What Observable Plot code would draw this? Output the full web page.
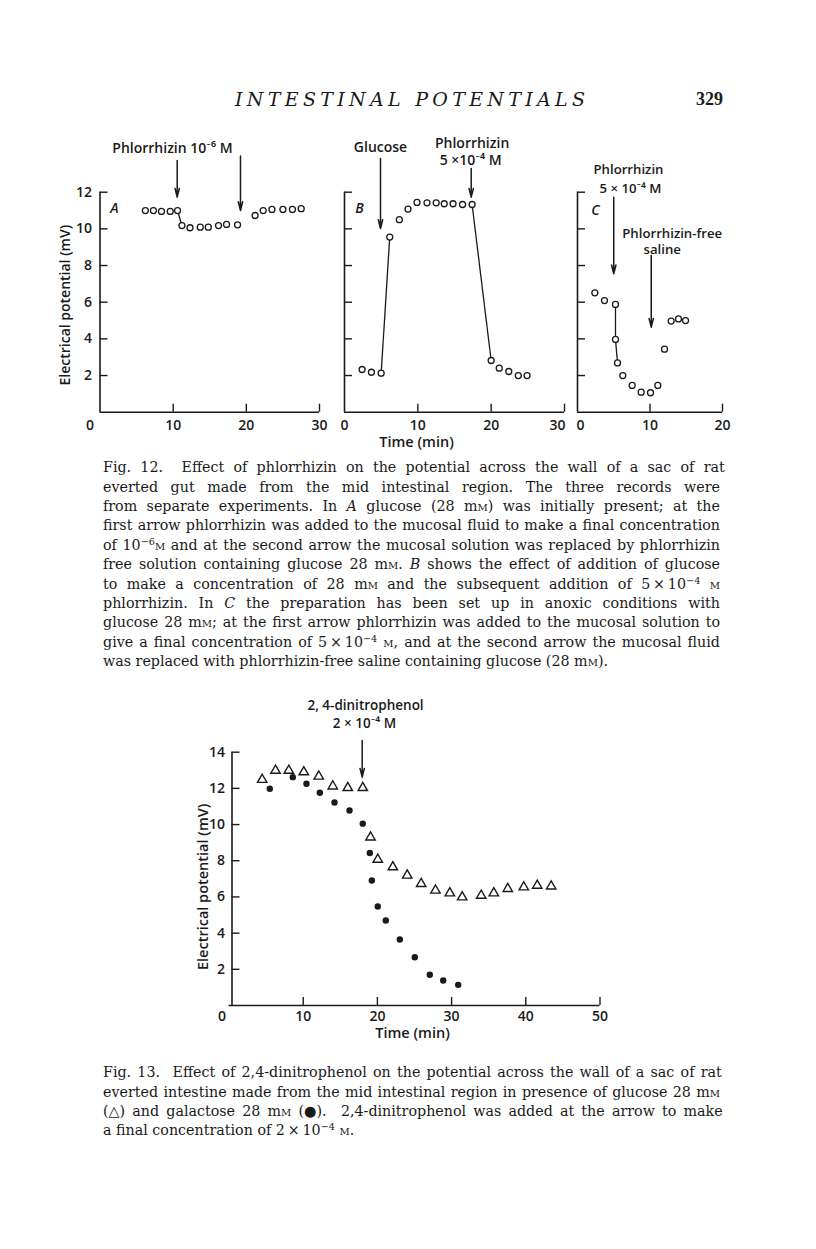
<!DOCTYPE html>
<html><head><meta charset="utf-8">
<script src="https://cdn.jsdelivr.net/npm/d3@7"></script>
<script src="https://cdn.jsdelivr.net/npm/@observablehq/plot@0.6"></script>
<style>
body{margin:0;background:#fff;}
#page{position:relative;width:816px;height:1249px;overflow:hidden;background:#fff;color:#1a1a1a;}
.hdr{position:absolute;white-space:nowrap;line-height:1;}
.cap{position:absolute;left:103px;width:617px;font-family:"DejaVu Serif",serif;color:#1a1a1a;}
.cap div{height:19.4px;line-height:19.4px;white-space:nowrap;}
.cap span.ln{display:inline-block;}
.sc{font-variant:small-caps;}
sup{font-size:0.68em;line-height:0;vertical-align:0.5em;}
</style></head>
<body><div id="page"></div>
<script>
// ---------------- DATA ----------------
// Fig. 12 A: phlorrhizin 10^-6 M
const tA = [6.2, 7.3, 8.4, 9.6, 10.6, 11.2, 12.3, 13.7, 14.8, 16.2, 17.3, 18.8, 21.2, 22.3, 23.5, 25.0, 26.3, 27.5];
const vA = [11.0, 11.0, 10.95, 10.95, 11.0, 10.18, 10.06, 10.09, 10.09, 10.18, 10.24, 10.22, 10.73, 11.0, 11.06, 11.06, 11.06, 11.1];
const linksA = [[4, 5]];
// Fig. 12 B: glucose then phlorrhizin 5x10^-4 M
const tB = [2.4, 3.67, 5.0, 6.17, 7.48, 8.66, 9.89, 11.25, 12.5, 13.6, 14.8, 16.1, 17.4, 20.0, 21.1, 22.4, 23.7, 24.9];
const vB = [2.33, 2.18, 2.13, 9.55, 10.5, 11.08, 11.44, 11.42, 11.42, 11.37, 11.37, 11.33, 11.33, 2.82, 2.4, 2.22, 2.0, 2.0];
const linksB = [[2, 3], [12, 13]];
// Fig. 12 C: anoxic
const tC = [2.39, 3.72, 5.24, 5.24, 5.52, 6.25, 7.54, 8.78, 10.07, 11.08, 12.0, 12.92, 13.93, 14.9];
const vC = [6.51, 6.09, 5.88, 3.97, 2.69, 2.0, 1.46, 1.09, 1.06, 1.46, 3.44, 4.97, 5.09, 5.0];
const linksC = [[2, 3], [3, 4]];

const arrowsA = [{t: 10.55, from: 13.73, to: 11.73}, {t: 19.2, from: 13.97, to: 11.0}];
const notesA = [{t: 9.9, v: 14.39, text: "Phlorrhizin 10\u207B\u2076 M"}];
const letterA = [{t: 1.98, v: 11.11, text: "A"}];
const arrowsB = [{t: 4.91, from: 13.84, to: 10.02}, {t: 17.28, from: 13.29, to: 11.73}];
const notesB = [{t: 4.91, v: 14.44, text: "Glucose"}, {t: 17.4, v: 14.66, text: "Phlorrhizin"}, {t: 17.2, v: 13.73, text: "5 \u00D710\u207B\u2074 M"}];
const letterB = [{t: 2.05, v: 11.11, text: "B"}];
const arrowsC = [{t: 5.0, from: 11.73, to: 7.55}, {t: 10.17, from: 8.55, to: 4.64}];
const notesC = [{t: 7.03, v: 13.24, text: "Phlorrhizin"}, {t: 7.3, v: 12.2, text: "5 \u00D7 10\u207B\u2074 M"}, {t: 13.06, v: 9.76, text: "Phlorrhizin-free"}, {t: 11.68, v: 8.86, text: "saline"}];
const letterC = [{t: 2.48, v: 11.0, text: "C"}];

const yTicks12 = [2, 4, 6, 8, 10, 12];
const xTicksAB = [10, 20, 30];
const xLabelsAB = [0, 10, 20, 30];
const xTicksC = [10, 20];
const xLabelsC = [0, 10, 20];

// Fig. 13: glucose (triangles) and galactose (dots), DNP at arrow
const tGlu = [4.47, 6.27, 8.06, 10.08, 12.10, 13.99, 16.01, 18.03, 19.07, 20.05, 22.08, 24.02, 25.90, 27.83, 29.76, 31.43, 33.99, 35.69, 37.57, 39.73, 41.54, 43.42];
const vGlu = [12.48, 12.99, 12.99, 12.90, 12.66, 12.12, 12.03, 12.03, 9.30, 8.07, 7.65, 7.19, 6.73, 6.36, 6.21, 5.99, 6.08, 6.21, 6.45, 6.54, 6.63, 6.59];
const tGal = [5.50, 8.60, 10.44, 12.24, 14.22, 16.24, 18.03, 18.98, 19.25, 20.05, 21.13, 23.02, 25.04, 27.06, 28.87, 30.89];
const vGal = [11.98, 12.62, 12.26, 11.76, 11.22, 10.78, 10.05, 8.43, 6.91, 5.47, 4.70, 3.65, 2.67, 1.70, 1.38, 1.14];
const arrows13 = [{t: 17.95, from: 14.65, to: 12.62}];
const notes13 = [{t: 18.4, v: 16.55, text: "2, 4-dinitrophenol"}, {t: 18.26, v: 15.58, text: "2 \u00D7 10\u207B\u2074 M"}];
const yTicks13 = [2, 4, 6, 8, 10, 12, 14];
const xTicks13 = [10, 20, 30, 40, 50];
const xLabels13 = [0, 10, 20, 30, 40, 50];

const yTitle = "Electrical potential (mV)";
const xTitle = "Time (min)";

// ---------------- TEXT ----------------
const mM = 'm<span class="sc">m</span>';
const M = '<span class="sc">m</span>';
const cap12 = [
  "Fig. 12.&nbsp; Effect of phlorrhizin on the potential across the wall of a sac of rat",
  "everted gut made from the mid intestinal region. The three records were",
  `from separate experiments. In <i>A</i> glucose (28 ${mM}) was initially present; at the`,
  "first arrow phlorrhizin was added to the mucosal fluid to make a final concentration",
  `of 10<sup>\u22126</sup>${M} and at the second arrow the mucosal solution was replaced by phlorrhizin`,
  `free solution containing glucose 28 ${mM}. <i>B</i> shows the effect of addition of glucose`,
  `to make a concentration of 28 ${mM} and the subsequent addition of 5\u2009\u00D7\u200910<sup>\u22124</sup> ${M}`,
  "phlorrhizin. In <i>C</i> the preparation has been set up in anoxic conditions with",
  `glucose 28 ${mM}; at the first arrow phlorrhizin was added to the mucosal solution to`,
  `give a final concentration of 5\u2009\u00D7\u200910<sup>\u22124</sup> ${M}, and at the second arrow the mucosal fluid`,
  `was replaced with phlorrhizin-free saline containing glucose (28 ${mM}).`
];
const cap13 = [
  "Fig. 13.&nbsp; Effect of 2,4-dinitrophenol on the potential across the wall of a sac of rat",
  `everted intestine made from the mid intestinal region in presence of glucose 28 ${mM}`,
  `(\u25B3) and galactose 28 ${mM} (\u25CF).&nbsp; 2,4-dinitrophenol was added at the arrow to make`,
  `a final concentration of 2\u2009\u00D7\u200910<sup>\u22124</sup> ${M}.`
];

// ---------------- LAYOUT ----------------
const page = document.getElementById("page");
const INK = "#1a1a1a";
const SANS = "'Open Sans', Lato, sans-serif";

function header(text, left, top, size, family, style, weight, target) {
  const el = document.createElement("div");
  el.className = "hdr";
  el.style.cssText = `left:${left}px;top:${top}px;font-size:${size}px;font-family:${family};font-style:${style};font-weight:${weight};`;
  el.textContent = text;
  page.appendChild(el);
  if (target) {
    const w = el.getBoundingClientRect().width;
    el.style.letterSpacing = ((target - w) / (text.length - 1)) + "px";
  }
}
header("INTESTINAL POTENTIALS", 235, 90, 19, "'DejaVu Serif', serif", "italic", "normal", 350);
header("329", 696, 90, 18, "'Liberation Serif', serif", "normal", "bold", 0);

// caption: every line but the last is justified to the column width
function caption(lines, top) {
  const box = document.createElement("div");
  box.className = "cap";
  box.style.top = top + "px";
  box.style.fontSize = "13px";
  page.appendChild(box);
  const spans = lines.map(html => {
    const row = document.createElement("div");
    const sp = document.createElement("span");
    sp.className = "ln";
    sp.innerHTML = html;
    row.appendChild(sp);
    box.appendChild(row);
    return sp;
  });
  return {box, spans};
}
const caps = [caption(cap12, 458.3), caption(cap13, 1063.3)];
let maxW = 0;
caps.forEach(c => c.spans.forEach((sp, i) => { if (i < c.spans.length - 1) maxW = Math.max(maxW, sp.getBoundingClientRect().width); }));
const capSize = 13 * 608 / maxW;
caps.forEach(c => {
  c.box.style.fontSize = capSize + "px";
  c.spans.forEach((sp, i) => {
    if (i === c.spans.length - 1) return;
    const w = sp.getBoundingClientRect().width;
    const n = (sp.textContent.match(/ /g) || []).length;
    if (n > 0) sp.style.wordSpacing = ((617 - w) / n) + "px";
  });
});

function makePanel(cfg) {
  const {left, top, width, height, mL, mR, mT, mB, xDomain, yDomain, xTicks, xLabels, xShift = {},
         yTicks, yLabels = [], yDx = 0, labelDx = -8, labelDy = 13.5, extra = []} = cfg;
  const pw = width - mL - mR, ph = height - mT - mB;
  const marks = [
    Plot.ruleY([yDomain[0]], {stroke: INK, strokeWidth: 1.6}),
    Plot.ruleX([xDomain[0]], {stroke: INK, strokeWidth: 1.6, dx: yDx}),
    Plot.tickY(yTicks, {y: d => d, stroke: INK, strokeWidth: 1.4, insetRight: pw - 8, dx: yDx}),
    Plot.tickX(xTicks, {x: d => d, stroke: INK, strokeWidth: 1.4, insetTop: ph - 8})
  ];
  if (yLabels.length) marks.push(Plot.text(yLabels, {x: xDomain[0], y: d => d, text: d => String(d), textAnchor: "end", dx: labelDx + yDx, fontSize: 14, fontWeight: 600, fill: INK}));
  for (const lab of xLabels) marks.push(Plot.text([lab], {x: d => d, y: yDomain[0], text: d => String(d), dy: labelDy, dx: xShift[lab] || 0, fontSize: 14, fontWeight: 600, fill: INK}));
  marks.push(...extra);
  const svg = Plot.plot({
    width, height, marginLeft: mL, marginRight: mR, marginTop: mT, marginBottom: mB,
    x: {domain: xDomain, axis: null}, y: {domain: yDomain, axis: null},
    style: {background: "transparent", overflow: "visible", fontFamily: SANS},
    marks
  });
  const d = document.createElement("div");
  d.style.cssText = `position:absolute;left:${left}px;top:${top}px;`;
  d.appendChild(svg);
  page.appendChild(d);
}

function seriesMarks(ts, vs, links, arrows, notes, letter, noteSize = 14) {
  return [
    Plot.link(links, {x1: p => ts[p[0]], y1: p => vs[p[0]], x2: p => ts[p[1]], y2: p => vs[p[1]], stroke: INK, strokeWidth: 1.3}),
    Plot.dot(ts, {x: d => d, y: (d, i) => vs[i], r: 3.0, fill: "white", stroke: INK, strokeWidth: 1.3}),
    Plot.arrow(arrows, {x1: "t", x2: "t", y1: "from", y2: "to", stroke: INK, strokeWidth: 1.5, headLength: 9, headAngle: 28}),
    Plot.text(notes, {x: "t", y: "v", text: "text", fontSize: noteSize, fontWeight: 600, fill: INK}),
    Plot.text(letter, {x: "t", y: "v", text: "text", fontSize: 14, fontWeight: 600, fontStyle: "italic", fill: INK})
  ];
}

// Panel A
makePanel({left: 30, top: 120, width: 310, height: 330, mL: 69.5, mR: 21, mT: 71.7, mB: 38.3,
  xDomain: [0, 30], yDomain: [0, 12], xTicks: xTicksAB, xLabels: xLabelsAB, xShift: {0: -10},
  yTicks: yTicks12, yLabels: yTicks12,
  extra: [
    ...seriesMarks(tA, vA, linksA, arrowsA, notesA, letterA),
    Plot.text([yTitle], {frameAnchor: "left", textAnchor: "middle", lineAnchor: "middle", rotate: -90, dx: -34.5, dy: 3, fontSize: 14, fontWeight: 600, fill: INK})
  ]});
// Panel B
makePanel({left: 335, top: 120, width: 235, height: 330, mL: 9, mR: 6, mT: 71.7, mB: 38.3,
  xDomain: [0, 30], yDomain: [0, 12], xTicks: xTicksAB, xLabels: xLabelsAB, xShift: {30: -7},
  yTicks: yTicks12,
  extra: [
    ...seriesMarks(tB, vB, linksB, arrowsB, notesB, letterB),
    Plot.text([xTitle], {frameAnchor: "bottom", textAnchor: "middle", lineAnchor: "middle", dx: -38, dy: 30, fontSize: 14.5, fontWeight: 600, fill: INK})
  ]});
// Panel C
makePanel({left: 570, top: 120, width: 175, height: 330, mL: 7, mR: 23, mT: 71.7, mB: 38.3,
  xDomain: [0, 20], yDomain: [0, 12], xTicks: xTicksC, xLabels: xLabelsC, xShift: {0: 3},
  yTicks: yTicks12,
  extra: seriesMarks(tC, vC, linksC, arrowsC, notesC, letterC, 13.2)});

// Fig. 13
makePanel({left: 150, top: 690, width: 470, height: 350, mL: 78.5, mR: 20.5, mT: 61.7, mB: 35,
  xDomain: [0, 50], yDomain: [0, 14], xTicks: xTicks13, xLabels: xLabels13, xShift: {0: -7},
  yTicks: yTicks13, yLabels: yTicks13, yDx: 3, labelDx: -7, labelDy: 11,
  extra: [
    Plot.dot(tGal, {x: d => d, y: (d, i) => vGal[i], r: 3.2, fill: INK}),
    Plot.dot(tGlu, {x: d => d, y: (d, i) => vGlu[i], r: 3.5, symbol: "triangle", fill: "white", stroke: INK, strokeWidth: 1.4}),
    Plot.arrow(arrows13, {x1: "t", x2: "t", y1: "from", y2: "to", stroke: INK, strokeWidth: 1.5, headLength: 9, headAngle: 28}),
    Plot.text(notes13, {x: "t", y: "v", text: "text", fontSize: 13.5, fontWeight: 600, fill: INK}),
    Plot.text([yTitle], {frameAnchor: "left", textAnchor: "middle", lineAnchor: "middle", rotate: -90, dx: -25.5, dy: 8, fontSize: 14.5, fontWeight: 600, fill: INK}),
    Plot.text([xTitle], {frameAnchor: "bottom", textAnchor: "middle", lineAnchor: "middle", dx: -2, dy: 28, fontSize: 14.5, fontWeight: 600, fill: INK})
  ]});
</script>
</body></html>
